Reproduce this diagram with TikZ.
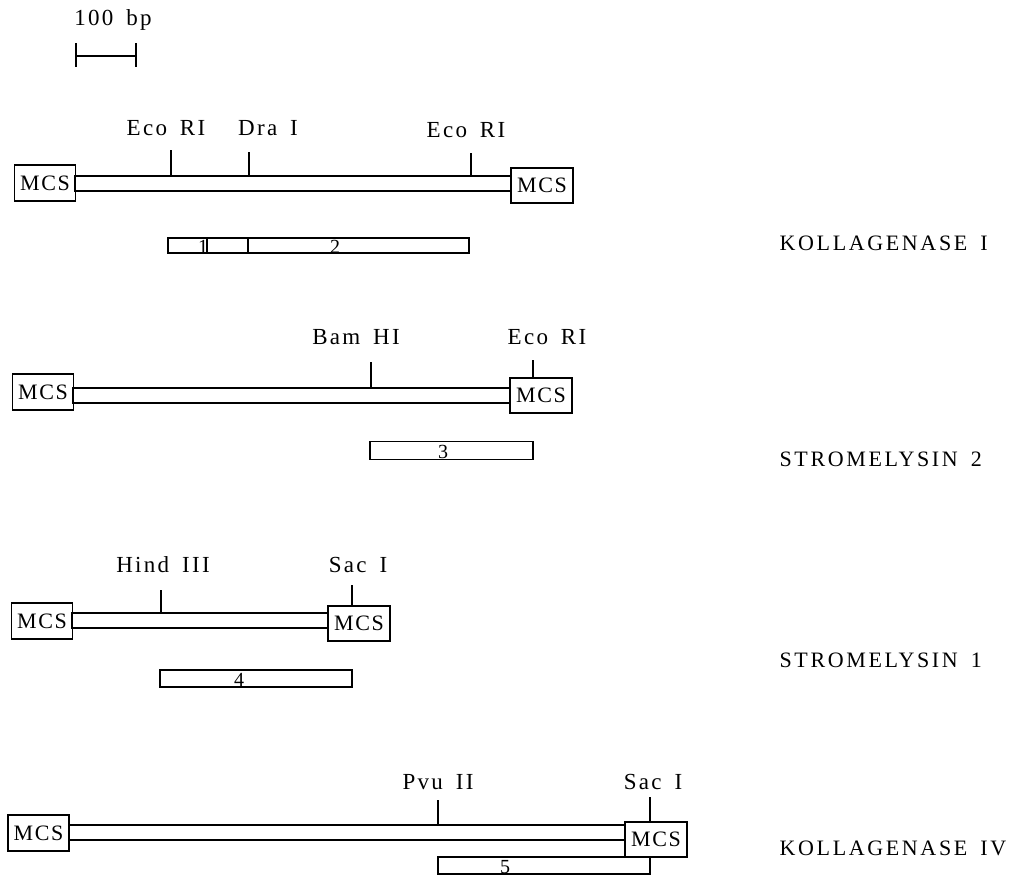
\documentclass[tikz,border=0pt]{standalone}
\usepackage{fontspec}
\setmainfont{Liberation Serif}[LetterSpace=10, WordSpace=1.6]
\begin{document}
\begin{tikzpicture}[x=1pt,y=-1pt, line width=1.25pt,
  mcs/.style={draw, minimum width=61pt, minimum height=36pt, inner sep=0pt, font=\fontsize{22}{22}\selectfont\addfontfeatures{LetterSpace=8}},
  tube/.style={draw, minimum height=15pt, inner sep=0pt},
  frag/.style={draw, minimum height=16pt, inner sep=0pt},
  site/.style={inner sep=0pt, font=\fontsize{23}{23}\selectfont},
  gene/.style={anchor=west, inner sep=0pt, font=\fontsize{22}{22}\selectfont\addfontfeatures{LetterSpace=12}},
  num/.style={inner sep=0pt, font=\fontsize{20}{20}\selectfont}]
\path[use as bounding box, fill=white] (0,0) rectangle (1026,876);

% scale bar
\node[site] (sbt) at (113,20) {100 bp};
\coordinate (sb1) at (76,56);
\coordinate (sb2) at (136,56);
\draw (sb1) -- (sb2);
\draw ([yshift=13pt]sb1) -- ([yshift=-11pt]sb1);
\draw ([yshift=13pt]sb2) -- ([yshift=-11pt]sb2);

% ---------- KOLLAGENASE I ----------
\node[mcs] (k1a) at (45,183) {MCS};
\node[mcs, minimum height=35pt, minimum width=62pt] (k1b) at (542,185.5) {MCS};
\node[tube, minimum width=436pt] (k1t) at (293,183.5) {};
\coordinate (k1s1) at (171,150);
\coordinate (k1s2) at (249,152);
\coordinate (k1s3) at (471,153);
\draw (k1s1) -- (k1s1 |- k1t.north);
\draw (k1s2) -- (k1s2 |- k1t.north);
\draw (k1s3) -- (k1s3 |- k1t.north);
\node[site] (k1l1) at (166,128) {Eco RI};
\node[site] (k1l2) at (268,128) {Dra I};
\node[site] (k1l3) at (466,130) {Eco RI};
\node[frag, minimum width=301pt, minimum height=15pt] (k1f) at (318.5,245.5) {};
\coordinate (k1d1) at (207,0);
\coordinate (k1d2) at (248,0);
\draw (k1f.north -| k1d1) -- (k1f.south -| k1d1);
\draw (k1f.north -| k1d2) -- (k1f.south -| k1d2);
\node[num] (k1n1) at (203,247) {1};
\node[num] (k1n2) at (335,247) {2};
\node[gene] (k1g) at (779,243) {KOLLAGENASE I};

% ---------- STROMELYSIN 2 ----------
\node[mcs] (s2a) at (43,392) {MCS};
\node[mcs, minimum height=35pt, minimum width=62pt] (s2b) at (541,395.5) {MCS};
\node[tube, minimum width=437pt] (s2t) at (291.5,395.5) {};
\coordinate (s2s1) at (371,362);
\coordinate (s2s2) at (533,360);
\draw (s2s1) -- (s2s1 |- s2t.north);
\draw (s2s2) -- (s2s2 |- s2b.north);
\node[site] (s2l1) at (356,337) {Bam HI};
\node[site] (s2l2) at (547,337) {Eco RI};
\node[frag, minimum width=163pt, minimum height=18pt] (s2f) at (451.5,450.5) {};
\node[num] (s2n) at (443,452) {3};
\node[gene] (s2g) at (779,459) {STROMELYSIN 2};

% ---------- STROMELYSIN 1 ----------
\node[mcs] (s1a) at (42,621) {MCS};
\node[mcs, minimum height=35pt, minimum width=62pt] (s1b) at (359,623.5) {MCS};
\node[tube, minimum width=256pt] (s1t) at (200,620.5) {};
\coordinate (s1s1) at (161,590);
\coordinate (s1s2) at (352,585);
\draw (s1s1) -- (s1s1 |- s1t.north);
\draw (s1s2) -- (s1s2 |- s1b.north);
\node[site] (s1l1) at (163,565) {Hind III};
\node[site] (s1l2) at (358,565) {Sac I};
\node[frag, minimum width=192pt, minimum height=17pt] (s1f) at (256,678.5) {};
\node[num] (s1n) at (239,680) {4};
\node[gene] (s1g) at (779,660) {STROMELYSIN 1};

% ---------- KOLLAGENASE IV ----------
\node[mcs] (k4a) at (38.5,833) {MCS};
\node[mcs, minimum height=35pt, minimum width=62pt] (k4b) at (656,839.5) {MCS};
\node[tube, minimum width=556pt] (k4t) at (347,832.5) {};
\coordinate (k4s1) at (438,800);
\coordinate (k4s2) at (650,797);
\draw (k4s1) -- (k4s1 |- k4t.north);
\draw (k4s2) -- (k4s2 |- k4b.north);
\node[site] (k4l1) at (438,782) {Pvu II};
\node[site] (k4l2) at (653,782) {Sac I};
\node[frag, minimum width=212pt, minimum height=17pt] (k4f) at (544,865.5) {};
\node[num] (k4n) at (505,867) {5};
\node[gene] (k4g) at (779,848) {KOLLAGENASE IV};
\end{tikzpicture}
\end{document}
